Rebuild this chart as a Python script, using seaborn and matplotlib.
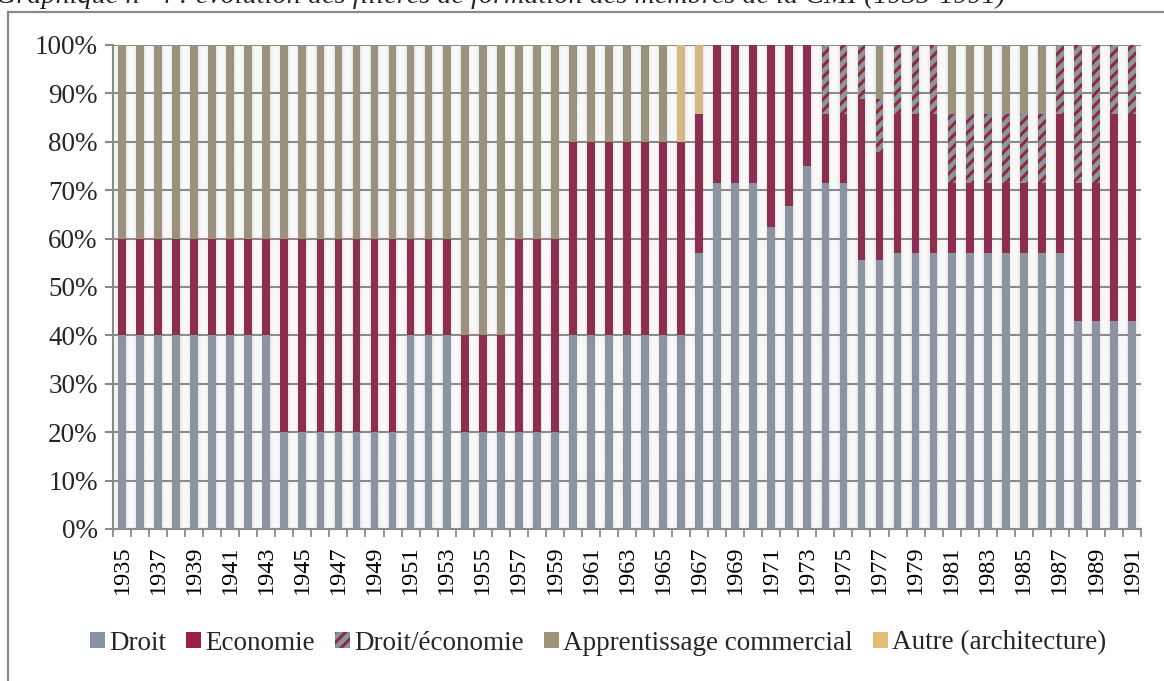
import numpy as np
import matplotlib
matplotlib.use("Agg")
import matplotlib.pyplot as plt
from matplotlib.patches import Patch
from matplotlib.lines import Line2D
import seaborn as sns

# Share of members by training (percent), 1935-1991
years = list(range(1935, 1992))

droit = [40, 40, 40, 40, 40, 40, 40, 40, 40,          # 1935-1943
         20, 20, 20, 20, 20, 20, 20,                  # 1944-1950
         40, 40, 40,                                  # 1951-1953
         20, 20, 20, 20, 20, 20,                      # 1954-1959
         40, 40, 40, 40, 40, 40, 40,                  # 1960-1966
         57.1,                                        # 1967
         71.4, 71.4, 71.4,                            # 1968-1970
         62.5, 66.7, 75,                              # 1971-1973
         71.4, 71.4,                                  # 1974-1975
         55.6, 55.6,                                  # 1976-1977
         57.1, 57.1, 57.1, 57.1, 57.1, 57.1, 57.1, 57.1, 57.1, 57.1,  # 1978-1987
         42.9, 42.9, 42.9, 42.9]                      # 1988-1991

economie = [20, 20, 20, 20, 20, 20, 20, 20, 20,
            40, 40, 40, 40, 40, 40, 40,
            20, 20, 20,
            20, 20, 20, 40, 40, 40,
            40, 40, 40, 40, 40, 40, 40,
            28.6,
            28.6, 28.6, 28.6,
            37.5, 33.3, 25,
            14.3, 14.3,
            33.3, 22.2,
            28.6, 28.6, 28.6, 14.3, 14.3, 14.3, 14.3, 14.3, 14.3, 28.6,
            28.6, 28.6, 42.9, 42.9]

droit_eco = [0, 0, 0, 0, 0, 0, 0, 0, 0,
             0, 0, 0, 0, 0, 0, 0,
             0, 0, 0,
             0, 0, 0, 0, 0, 0,
             0, 0, 0, 0, 0, 0, 0,
             0,
             0, 0, 0,
             0, 0, 0,
             14.3, 14.3,
             11.1, 11.1,
             14.3, 14.3, 14.3, 14.3, 14.3, 14.3, 14.3, 14.3, 14.3, 14.3,
             28.6, 28.6, 14.3, 14.3]

apprentissage = [40, 40, 40, 40, 40, 40, 40, 40, 40,
                 40, 40, 40, 40, 40, 40, 40,
                 40, 40, 40,
                 60, 60, 60, 40, 40, 40,
                 20, 20, 20, 20, 20, 20, 0,
                 0,
                 0, 0, 0,
                 0, 0, 0,
                 0, 0,
                 0, 11.1,
                 0, 0, 0, 14.3, 14.3, 14.3, 14.3, 14.3, 14.3, 0,
                 0, 0, 0, 0]

autre = [0] * 31 + [20, 14.3] + [0] * 24

series_names = ["Droit", "Economie", "Droit/économie",
                "Apprentissage commercial", "Autre (architecture)"]
colors = ["#8793A4", "#9A1F4C", "#8793A4", "#A09478", "#E3BB77"]
hatch_color = "#8E2B36"

sns.set_theme(style="white")
plt.rcParams["font.family"] = ["Liberation Serif", "DejaVu Serif"]
plt.rcParams["hatch.linewidth"] = 2.2

fig = plt.figure(figsize=(11.64, 6.81), dpi=100)
ax = fig.add_axes([113 / 1164, 1 - 529 / 681, (1141 - 113) / 1164, (529 - 45) / 681])

n = len(years)
labels = [str(y) for y in years]

# Soft shading in the gaps between bars
xs = np.linspace(-0.5, n - 0.5, n * 60)
d = np.abs(((xs + 0.5) % 1.0) - 0.5)
shade = 0.975 - 0.10 * np.exp(-np.clip(d - 0.215, 0, None) / 0.05)
ax.imshow(shade[None, :], extent=(-0.5, n - 0.5, 0, 100), aspect="auto",
          cmap="gray", vmin=0, vmax=1, zorder=0, interpolation="bilinear")

# Stacked bars: draw cumulative heights from the top layer down
layers = [droit, economie, droit_eco, apprentissage, autre]
cum = np.cumsum(np.array(layers, dtype=float), axis=0)
bw = 0.43
for i in range(len(layers) - 1, -1, -1):
    kw = dict(color=colors[i], width=bw, ax=ax, linewidth=0, zorder=2 + (5 - i))
    if i == 2:
        kw.update(hatch="///", edgecolor=hatch_color)
    sns.barplot(x=labels, y=cum[i], **kw)

ax.set_xlim(-0.5, n - 0.5)
ax.set_ylim(0, 100)
ax.set_yticks(np.arange(0, 101, 10))
ax.set_yticklabels([f"{v}%" for v in range(0, 101, 10)])
ax.yaxis.grid(True, color="#8A8A8A", linewidth=1.5)
ax.set_axisbelow(True)
ax.grid(axis="x", visible=False)

ax.set_xticks(range(0, n, 2))
ax.set_xticklabels(labels[::2], rotation=90)
ax.set_xticks(np.arange(-0.5, n, 1), minor=True)
ax.tick_params(axis="x", which="major", length=0, pad=12, labelsize=17.5, colors="black")
ax.tick_params(axis="x", which="minor", length=6, width=1.3, color="#8A8A8A", bottom=True)
ax.tick_params(axis="y", length=6, width=1.5, color="#8A8A8A", labelsize=19.5, pad=5, left=True)
ax.set_xlabel("")
ax.set_ylabel("")

for s in ["top", "right"]:
    ax.spines[s].set_visible(False)
for s in ["left", "bottom"]:
    ax.spines[s].set_color("#8A8A8A")
    ax.spines[s].set_linewidth(1.5)

handles = []
for i, name in enumerate(series_names):
    if i == 2:
        handles.append(Patch(facecolor=colors[i], hatch="///", edgecolor=hatch_color, linewidth=0, label=name))
    else:
        handles.append(Patch(facecolor=colors[i], linewidth=0, label=name))
fig.legend(handles=handles, loc="center", bbox_to_anchor=(598 / 1164, 1 - 643 / 681),
           ncol=5, frameon=False, fontsize=19.5, handlelength=0.55, handleheight=0.55,
           handletextpad=0.15, columnspacing=0.75, borderaxespad=0)

# Outer frame around the chart
fig.add_artist(Line2D([8 / 1164, 8 / 1164], [0, 1 - 12 / 681], transform=fig.transFigure,
                      color="#8A8A8A", linewidth=1.6))
fig.add_artist(Line2D([8 / 1164, 1], [1 - 12 / 681, 1 - 12 / 681], transform=fig.transFigure,
                      color="#8A8A8A", linewidth=1.6))

fig.text(-4 / 1164, 1 - 3 / 681,
         "Graphique n° 4 : évolution des filières de formation des membres de la CMI (1935-1991)",
         fontsize=20.3, style="italic", ha="left", va="baseline")

fig.savefig("out.png", dpi=100)
